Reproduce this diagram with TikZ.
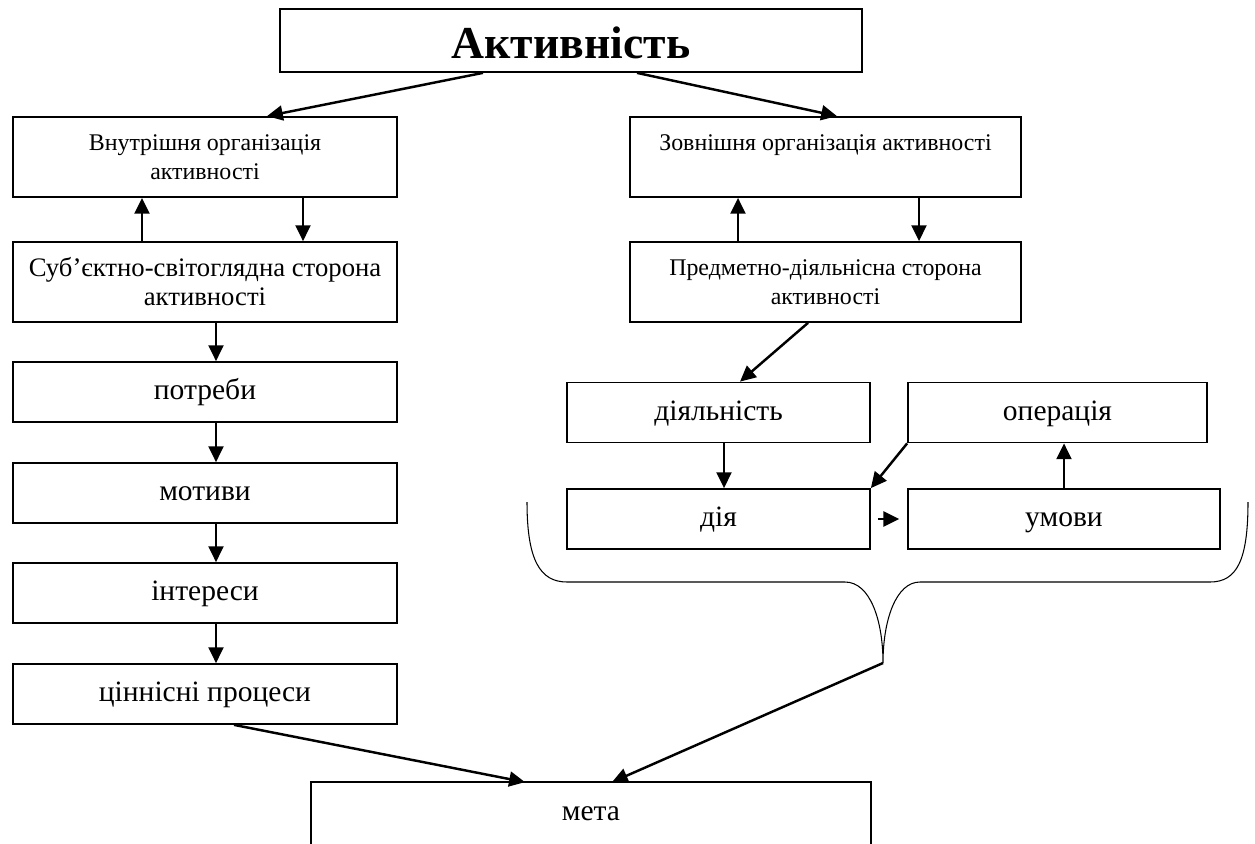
\documentclass[tikz,border=0pt]{standalone}
\usepackage{fontspec}
\setmainfont{Liberation Serif}
\usetikzlibrary{arrows.meta, calc}

\begin{document}
\begin{tikzpicture}[x=0.02cm, y=-0.02cm, >={Triangle[length=9pt, width=8.5pt]},
  box/.style={draw, line width=1pt, inner sep=0pt, align=center,
    minimum width=#1, minimum height=1.2cm, text height=11.5pt, text depth=2.5pt,
    font=\fontsize{16.8}{19}\selectfont},
  tallbox/.style={box=#1, minimum height=1.6cm, text height=, text depth=,
    font=\fontsize{13.6}{16.5}\selectfont},
  link/.style={->, line width=1.4pt}]

\useasboundingbox (0,0) rectangle (1255,843);

% Top box
\node[box=11.64cm, minimum height=1.26cm, text height=21pt, text depth=0pt,
  font=\fontsize{26}{30}\selectfont\bfseries] (act) at (571,40.5) {Активність};

% Left side
\node[tallbox=7.68cm] (inner) at (205,157) {Внутрішня організація\\ активності};
\node[tallbox=7.68cm, font=\fontsize{15.2}{16.5}\selectfont] (subj) at (205,282) {Суб’єктно-світоглядна сторона\\ активності};
\node[box=7.68cm] (needs) at (205,392) {потреби};
\node[box=7.68cm] (motives) at (205,493) {мотиви};
\node[box=7.68cm] (interests) at (205,593) {інтереси};
\node[box=7.68cm] (values) at (205,694) {ціннісні процеси};

% Right side
\node[tallbox=7.82cm] (outer) at (825.5,157) {Зовнішня організація активності\\ \mbox{}};
\node[tallbox=7.82cm] (obj) at (825.5,282) {Предметно-діяльнісна сторона\\ активності};
\node[box=6.06cm] (activity) at (718.5,412.5) {діяльність};
\node[box=5.98cm] (oper) at (1057.5,412.5) {операція};
\node[box=6.06cm] (action) at (718.5,519) {дія};
\node[box=6.24cm] (cond) at (1064,519) {умови};

% Goal box, open at the bottom
\node[box=11.16cm, draw=none] (goal) at (591,813) {мета};
\draw[line width=1pt] (goal.south west) -- (goal.north west) -- (goal.north east) -- (goal.south east);

% Arrows from the top
\draw[link] ($(act.south)+(-88,0)$) -- ($(inner.north)+(62,0)$);
\draw[link] ($(act.south)+(66,0)$) -- ($(outer.north)+(11.5,0)$);

% Left pair
\draw[link] ($(subj.north)+(-63,0)$) -- ($(inner.south)+(-63,0)$);
\draw[link] ($(inner.south)+(98,0)$) -- ($(subj.north)+(98,0)$);

% Right pair
\draw[link] ($(obj.north)+(-87.5,0)$) -- ($(outer.south)+(-87.5,0)$);
\draw[link] ($(outer.south)+(93.5,0)$) -- ($(obj.north)+(93.5,0)$);

% Left chain
\draw[link] ($(subj.south)+(11,0)$) -- ($(needs.north)+(11,0)$);
\draw[link] ($(needs.south)+(11,0)$) -- ($(motives.north)+(11,0)$);
\draw[link] ($(motives.south)+(11,0)$) -- ($(interests.north)+(11,0)$);
\draw[link] ($(interests.south)+(11,0)$) -- ($(values.north)+(11,0)$);
\draw[link] ($(values.south)+(29,0)$) -- ($(goal.north)+(-66,0)$);

% Right group
\draw[link] ($(obj.south)+(-17.5,0)$) -- ($(activity.north)+(21.5,0)$);
\draw[link] ($(activity.south)+(5.5,0)$) -- ($(action.north)+(5.5,0)$);
\draw[link] (oper.south west) -- (action.north east);
\draw[link] (cond.north) -- (cond.north |- oper.south);
\draw[link, shorten <=4pt, shorten >=4.5pt] (action) -- (cond);

% Brace under the right group
\coordinate (tip) at (883,663);
\draw[line width=0.6pt] (527,502) .. controls (527,560) and (540,582) .. (567,582)
  -- (845,582) .. controls (870,582) and (883,620) .. (tip)
  .. controls (883,620) and (896,582) .. (920,582)
  -- (1210,582) .. controls (1237,582) and (1248,560) .. (1248,502);
\draw[link] (tip) -- ($(goal.north)+(21,0)$);

\end{tikzpicture}
\end{document}
